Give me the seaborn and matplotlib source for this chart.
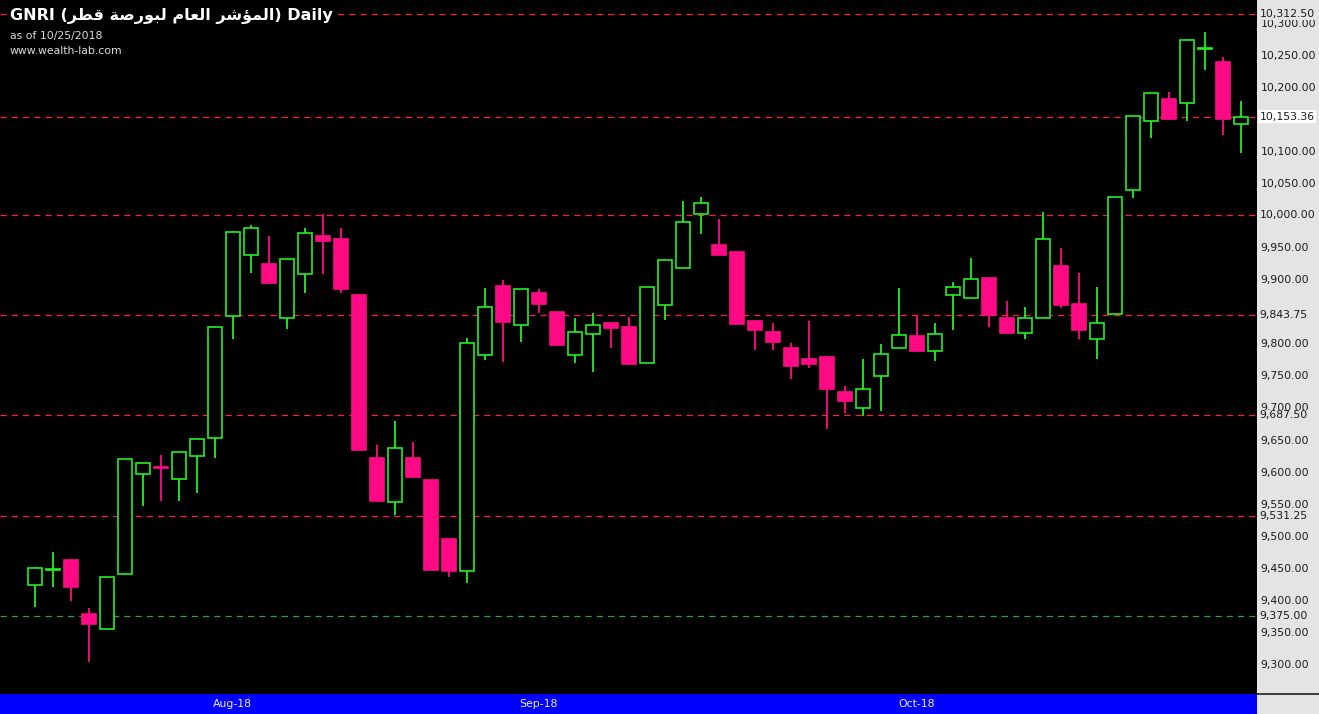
import numpy as np
import matplotlib
matplotlib.use("Agg")
import matplotlib.pyplot as plt
import matplotlib.transforms as mtransforms
from matplotlib.patches import Rectangle
from matplotlib.lines import Line2D
import seaborn as sns

# ---------------- data ----------------
open_ = [9423, 9447, 9462, 9378, 9355, 9440, 9596, 9607, 9588, 9625,
         9653, 9842, 9937, 9924, 9840, 9908, 9968, 9963, 9876, 9621,
         9552, 9621, 9587, 9495, 9445, 9782, 9890, 9828, 9879, 9849,
         9782, 9814, 9832, 9825, 9769, 9859, 9917, 10001, 9953, 9942,
         9834, 9818, 9792, 9775, 9778, 9724, 9699, 9749, 9793, 9811,
         9788, 9875, 9871, 9902, 9840, 9816, 9840, 9921, 9862, 9807,
         9845, 10039, 10147, 10181, 10175, 10258, 10239, 10142]
high = [9451, 9474, 9464, 9387, 9436, 9619, 9613, 9626, 9630, 9651,
        9825, 9975, 9984, 9968, 9932, 9979, 10001, 9979, 9876, 9642,
        9679, 9646, 9587, 9495, 9809, 9886, 9898, 9885, 9884, 9851,
        9839, 9848, 9832, 9841, 9888, 9930, 10022, 10028, 9993, 9942,
        9834, 9832, 9801, 9835, 9778, 9733, 9776, 9799, 9886, 9843,
        9832, 9895, 9933, 9902, 9866, 9856, 10004, 9949, 9910, 9887,
        10028, 10155, 10190, 10191, 10274, 10286, 10246, 10177]
low = [9389, 9420, 9399, 9303, 9355, 9439, 9547, 9554, 9554, 9567,
       9622, 9807, 9909, 9893, 9823, 9879, 9908, 9879, 9634, 9554,
       9533, 9592, 9446, 9435, 9426, 9774, 9771, 9802, 9847, 9797,
       9769, 9755, 9792, 9767, 9769, 9837, 9917, 9970, 9938, 9830,
       9789, 9789, 9745, 9762, 9666, 9692, 9686, 9695, 9793, 9788,
       9772, 9821, 9871, 9826, 9815, 9807, 9840, 9855, 9806, 9775,
       9845, 10026, 10120, 10148, 10146, 10226, 10125, 10097]
close = [9450, 9448, 9420, 9362, 9436, 9619, 9613, 9606, 9630, 9651,
         9825, 9974, 9979, 9894, 9932, 9972, 9959, 9884, 9634, 9554,
         9637, 9592, 9446, 9445, 9801, 9857, 9833, 9885, 9861, 9797,
         9817, 9829, 9824, 9767, 9888, 9930, 9989, 10019, 9938, 9830,
         9821, 9802, 9764, 9767, 9729, 9710, 9729, 9783, 9813, 9788,
         9815, 9888, 9900, 9844, 9816, 9839, 9963, 9859, 9821, 9832,
         10028, 10155, 10190, 10149, 10272, 10260, 10149, 10153.36]

red_levels = [10312.50, 10000.00, 9843.75, 9687.50, 9531.25]
green_levels = [9375.00]
month_labels = ["Aug-18", "Sep-18", "Oct-18"]
month_first_bar = [11, 28, 49]

name_ar = "المؤشر العام لبورصة قطر"
symbol = "GNRI"
as_of = "as of 10/25/2018"
site = "www.wealth-lab.com"

# ---------------- minimal Arabic shaping (visual order) ----------------
AR_FORMS = {
    '\u0627': ('\uFE8D', '\uFE8E', None, None),
    '\u0644': ('\uFEDD', '\uFEDE', '\uFEDF', '\uFEE0'),
    '\u0645': ('\uFEE1', '\uFEE2', '\uFEE3', '\uFEE4'),
    '\u0624': ('\uFE85', '\uFE86', None, None),
    '\u0634': ('\uFEB5', '\uFEB6', '\uFEB7', '\uFEB8'),
    '\u0631': ('\uFEAD', '\uFEAE', None, None),
    '\u0639': ('\uFEC9', '\uFECA', '\uFECB', '\uFECC'),
    '\u0628': ('\uFE8F', '\uFE90', '\uFE91', '\uFE92'),
    '\u0648': ('\uFEED', '\uFEEE', None, None),
    '\u0635': ('\uFEB9', '\uFEBA', '\uFEBB', '\uFEBC'),
    '\u0629': ('\uFE93', '\uFE94', None, None),
    '\u0642': ('\uFED5', '\uFED6', '\uFED7', '\uFED8'),
    '\u0637': ('\uFEC1', '\uFEC2', '\uFEC3', '\uFEC4'),
}


def shape_ar(text):
    out = []
    for i, ch in enumerate(text):
        if ch not in AR_FORMS:
            out.append(ch)
            continue
        prev = text[i - 1] if i > 0 else ''
        nxt = text[i + 1] if i + 1 < len(text) else ''
        p = prev in AR_FORMS and AR_FORMS[prev][2] is not None
        n = AR_FORMS[ch][2] is not None and nxt in AR_FORMS
        f = AR_FORMS[ch]
        if p and n:
            out.append(f[3])
        elif p:
            out.append(f[1])
        elif n:
            out.append(f[2])
        else:
            out.append(f[0])
    return ''.join(out)[::-1]


# ---------------- style ----------------
sns.set_theme(style="dark", rc={"axes.facecolor": "black", "figure.facecolor": "black"})
plt.rcParams['font.family'] = ['DejaVu Sans']

W, H = 1319, 714
plot_right = 1257
band_h = 20

GREEN = '#22f022'
PINK = '#ff0a84'
RED_LINE = '#ff1f3d'
GREEN_LINE = '#33a033'
PANEL = '#e4e4e4'

fig = plt.figure(figsize=(W / 100, H / 100), dpi=100)
fig.patch.set_facecolor('black')

# right price panel and bottom date band
fig.add_artist(Rectangle((plot_right / W, 0), 1 - plot_right / W, 1,
                         transform=fig.transFigure, facecolor=PANEL,
                         edgecolor='none', zorder=-2))
fig.add_artist(Rectangle((0, 0), plot_right / W, band_h / H,
                         transform=fig.transFigure, facecolor='#0000ff',
                         edgecolor='none', zorder=-2))
fig.add_artist(Line2D([plot_right / W, 1], [band_h / H, band_h / H],
                      transform=fig.transFigure, color='#202020', lw=1.2,
                      zorder=-1))

ax = fig.add_axes([0, band_h / H, plot_right / W, 1 - band_h / H])
ax.set_facecolor('black')
for s in ax.spines.values():
    s.set_visible(False)

n = len(close)
x = np.arange(n)
o = np.array(open_, dtype=float)
c = np.array(close, dtype=float)
hi = np.array(high, dtype=float)
lo = np.array(low, dtype=float)
up = c >= o

colors = np.where(up, GREEN, PINK)
ax.vlines(x, lo, hi, colors=colors, lw=1.3, zorder=2)

bottoms = np.minimum(o, c)
heights = np.maximum(np.abs(c - o), 0.8)
ax.bar(x[up], heights[up], bottom=bottoms[up], width=0.8,
       facecolor='black', edgecolor=GREEN, linewidth=1.2, zorder=3)
ax.bar(x[~up], heights[~up], bottom=bottoms[~up], width=0.8,
       facecolor=PINK, edgecolor=PINK, linewidth=1.2, zorder=3)

# level lines
for lv in red_levels + [close[-1]]:
    ln = ax.axhline(lv, color=RED_LINE, lw=0.9, zorder=1)
    ln.set_dashes((5, 4))
for lv in green_levels:
    ln = ax.axhline(lv, color=GREEN_LINE, lw=0.9, zorder=1)
    ln.set_dashes((5, 4))

# axes scales
step = 18.0
x0_px = 34.7
ax.set_xlim(-x0_px / step, (plot_right - x0_px) / step)
ax.set_ylim(9253.4, 10335.1)
ax.set_xticks([])

ax.yaxis.tick_right()
all_levels = red_levels + green_levels + [close[-1]]
yt = [v for v in np.arange(9300, 10301, 50)
      if min(abs(v - lv) for lv in all_levels) > 10]
ax.set_yticks(yt)
ax.set_yticklabels([f"{v:,.2f}" for v in yt])
ax.tick_params(axis='y', length=0, pad=2.5, labelsize=7.8, labelcolor='#1a1a1a')
ax.grid(False)

# level labels on the price panel
tr = mtransforms.blended_transform_factory(ax.transAxes, ax.transData)
for lv in red_levels + green_levels:
    ax.text(1.0 + 2.5 / plot_right, lv, f"{lv:,.2f}", transform=tr,
            ha='left', va='center', fontsize=7.8, color='#1a1a1a',
            clip_on=False, zorder=5,
            bbox=dict(facecolor=PANEL, edgecolor='none', pad=0.6))
ax.text(1.0 + 2.5 / plot_right, close[-1], f"{close[-1]:,.2f}", transform=tr,
        ha='left', va='center', fontsize=7.8, color='#1a1a1a',
        clip_on=False, zorder=5,
        bbox=dict(facecolor='white', edgecolor='none', pad=1.2))

# month labels in the blue band
trb = mtransforms.blended_transform_factory(ax.transData, fig.transFigure)
for xi, lab in zip(month_first_bar, month_labels):
    ax.text(xi, (band_h / 2) / H, lab, transform=trb, ha='center',
            va='center', fontsize=7.8, color='#f4f0d8', clip_on=False)

# title block
title = f"{symbol} (" + shape_ar(name_ar) + ") Daily"
fig.text(10 / W, 1 - 16 / H, title, ha='left', va='center', fontsize=11.5,
         fontweight='bold', color='white', family=['DejaVu Sans'],
         bbox=dict(facecolor='black', edgecolor='none', pad=1.5))
fig.text(10 / W, 1 - 36 / H, as_of, ha='left', va='center', fontsize=7.8,
         color='#dcdcdc')
fig.text(10 / W, 1 - 51 / H, site, ha='left', va='center', fontsize=7.8,
         color='#dcdcdc')

fig.savefig('out.png', dpi=100, facecolor='black')
